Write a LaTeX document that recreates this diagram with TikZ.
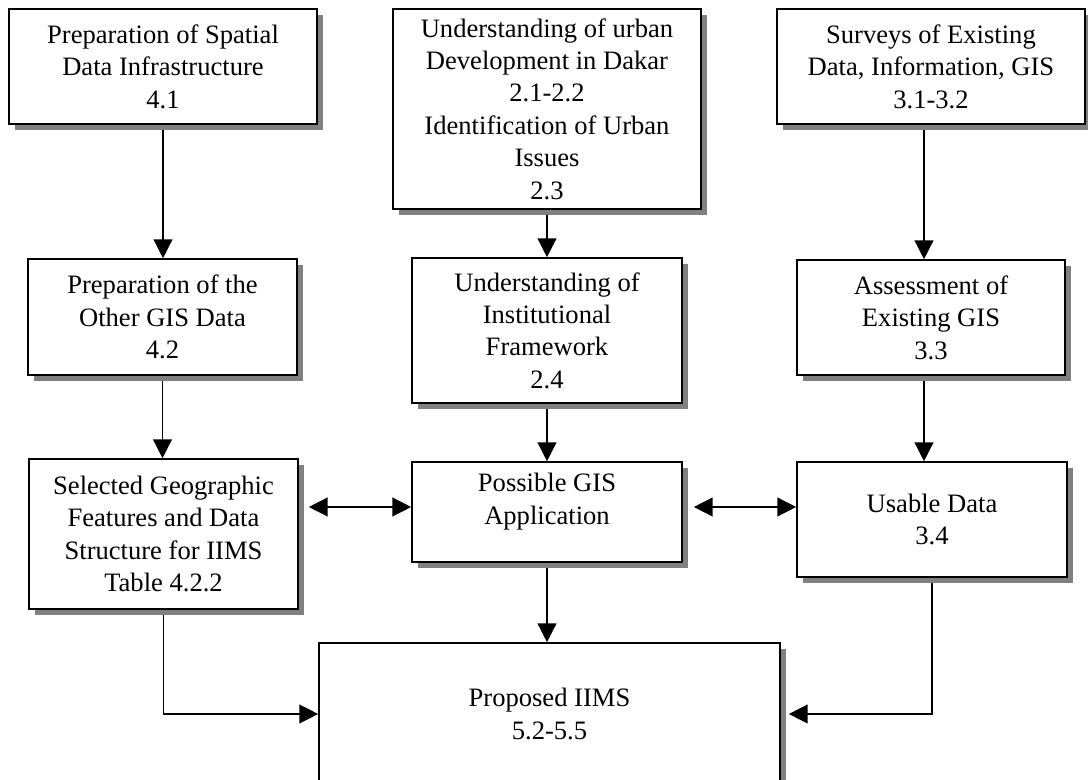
\documentclass[tikz,border=0pt]{standalone}
\usepackage{fontspec}
\setmainfont{Liberation Serif}
\usepackage{tikz}
\usetikzlibrary{arrows.meta, positioning, calc, shadows, backgrounds}

\begin{document}
\begin{tikzpicture}[x=0.025cm, y=-0.025cm, >={Triangle[length=0.47cm,width=0.47cm]},
  box/.style={draw, line width=1.1pt, fill=white, align=center, inner sep=0pt,
    font=\fontsize{18.9}{23}\selectfont,
    general shadow={fill=black!50, shadow xshift=0.14cm, shadow yshift=-0.16cm}},
  link/.style={->, line width=1pt},
  both/.style={<->, line width=1pt}]
  \useasboundingbox (0,0) rectangle (1088,780);
  \clip (0,0) rectangle (1088,780);
  \node[box, minimum width=7.7cm, minimum height=2.875cm] (spatial) at (163,66.5)
    {Preparation of Spatial\\Data Infrastructure\\4.1};
  \node[box, minimum width=7.7cm, minimum height=5cm] (urban) at (547,109)
    {Understanding of urban\\Development in Dakar\\2.1-2.2\\Identification of Urban\\Issues\\2.3};
  \node[box, minimum width=7.7cm, minimum height=2.875cm] (survey) at (931,66.5)
    {Surveys of Existing\\Data, Information, GIS\\3.1-3.2};
  \node[box, minimum width=6.725cm, minimum height=2.9cm] (other) at (162.5,317)
    {Preparation of the\\Other GIS Data\\4.2};
  \node[box, minimum width=6.75cm, minimum height=3.625cm] (inst) at (547,330.5)
    {Understanding of\\Institutional\\Framework\\2.4};
  \node[box, minimum width=6.7cm, minimum height=2.875cm] (assess) at (931,317.5)
    {Assessment of\\Existing GIS\\3.3};
  \node[box, minimum width=6.725cm, minimum height=3.75cm] (features) at (163.5,534)
    {Selected Geographic\\Features and Data\\Structure for IIMS\\Table 4.2.2};
  \node[box, minimum width=6.75cm, minimum height=2.5cm] (possible) at (547,512)
    {Possible GIS\\Application\\[-4pt]\mbox{}};
  \node[box, minimum width=6.75cm, minimum height=2.875cm] (usable) at (932,519.5)
    {Usable Data\\3.4};
  \node[box, minimum width=11.525cm, minimum height=3.55cm] (iims) at (549.5,714)
    {Proposed IIMS\\5.2-5.5};
  \begin{scope}[on background layer]
    \draw[link] (spatial.south) -- (spatial.south |- other.north);
    \draw[link] (urban.south) -- (urban.south |- inst.north);
    \draw[link] ($(survey.south)+(-7,0)$) -- ($(survey.south |- assess.north)+(-7,0)$);
    \draw[link] (other.south) -- (other.south |- features.north);
    \draw[link] (inst.south) -- (inst.south |- possible.north);
    \draw[link] ($(assess.south)+(-7,0)$) -- ($(assess.south |- usable.north)+(-7,0)$);
    \draw[both] ($(features.east |- possible.west)+(10,-5)$) -- ($(possible.west)+(0,-5)$);
    \draw[both] ($(possible.east)+(11,-5)$) -- ($(possible.east -| usable.west)+(0,-5)$);
    \draw[link] (possible.south) -- (possible.south |- iims.north);
    \draw[link] (features.south) |- (iims.west);
    \draw[link] (usable.south) |- ($(iims.east)+(8,0)$);
  \end{scope}
\end{tikzpicture}
\end{document}
